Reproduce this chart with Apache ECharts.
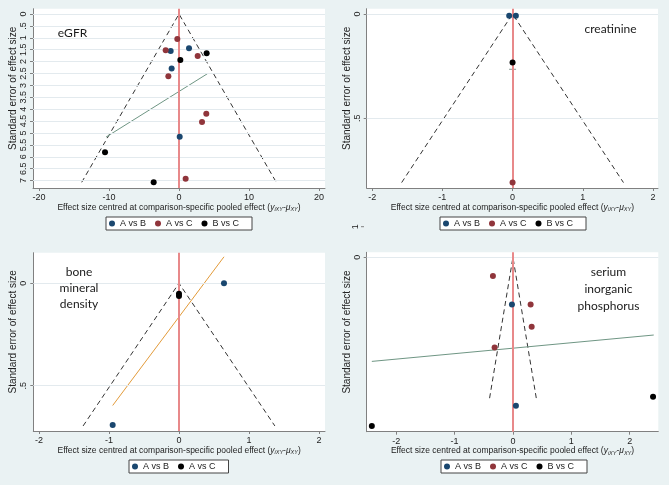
<!DOCTYPE html>
<html><head><meta charset="utf-8">
<script src="https://cdn.jsdelivr.net/npm/echarts@6/dist/echarts.min.js"></script>
<style>html,body{margin:0;padding:0;background:#eaf2f3;}#c{width:669px;height:485px;}</style>
</head><body><div id="c"></div>
<script>
// ---------- data ----------
const groupNames = ['A vs B', 'A vs C', 'B vs C'];

// eGFR
const egfrAB = [[1.43,1.44],[-1.19,1.55],[-1.05,2.29],[0.10,5.16]];
const egfrAC = [[-0.24,1.05],[-1.90,1.52],[2.67,1.76],[-1.52,2.61],[3.90,4.19],[3.29,4.54],[0.95,6.92]];
const egfrBC = [[3.95,1.65],[0.19,1.93],[-10.57,5.81],[-3.62,7.07]];
const egfrFunnel = [[-13.9,7.07],[0,0],[13.9,7.07]];
const egfrReg = [[-10.43,5.17],[4.05,2.51]];
const egfrXTicks = [-20,-10,0,10,20];
const egfrYTicks = [0,0.5,1,1.5,2,2.5,3,3.5,4,4.5,5,5.5,6,6.5,7];

// creatinine
const creaAB = [[-0.048,0.008],[0.047,0.008]];
const creaAC = [[0,0.808]];
const creaBC = [[0,0.233]];
const creaFunnel = [[-1.58,0.808],[0,0],[1.58,0.808]];
const creaReg = [[-0.05,0.265],[0.05,0.265]];
const creaXTicks = [-2,-1,0,1,2];
const creaYTicks = [0,0.5];

// bone mineral density
const bmdAB = [[0.643,0.0],[-0.947,0.692]];
const bmdAC = [[0,0.052],[0,0.062]];
const bmdFunnel = [[-1.37,0.697],[0,0],[1.37,0.697]];
const bmdReg = [[-0.947,0.597],[0.643,-0.129]];
const bmdXTicks = [-2,-1,0,1,2];
const bmdYTicks = [0,0.5];

// serum inorganic phosphorus
const phosAB = [[-0.017,0.068],[0.051,0.214]];
const phosAC = [[-0.343,0.027],[0.303,0.068],[0.321,0.100],[-0.314,0.130]];
const phosBC = [[2.40,0.201],[-2.417,0.243]];
const phosFunnel = [[-0.40,0.203],[0,0],[0.40,0.203]];
const phosReg = [[-2.417,0.150],[2.412,0.112]];
const phosXTicks = [-2,-1,0,1,2];
const phosYTicks = [0];

// ---------- styling ----------
const BLUE = '#1a476f', RED = '#90353b', BLACK = '#000000';
const GREEN = '#6f9684', ORANGE = '#e39b3a', VLINE = '#e8898a';
const FONT = 'Liberation Sans';
const AXC = '#808080', TXT = '#222';

const panels = [
  {grid:{left:33, top:8.7, width:292, height:179.3}, x:[-20.86,20.86], y:[-0.223,7.31],
   xt:egfrXTicks, yt:egfrYTicks, funnel:egfrFunnel, reg:egfrReg, regColor:GREEN,
   groups:[[egfrAB,BLUE,0],[egfrAC,RED,1],[egfrBC,BLACK,2]]},
  {grid:{left:366.7, top:8.7, width:291.3, height:179.3}, x:[-2.078,2.072], y:[-0.0254,0.834],
   xt:creaXTicks, yt:creaYTicks, funnel:creaFunnel, reg:creaReg, regColor:'#8a9a94',
   groups:[[creaAB,BLUE,0],[creaAC,RED,1],[creaBC,BLACK,2]]},
  {grid:{left:33.3, top:252.7, width:291.7, height:178.3}, x:[-2.081,2.086], y:[-0.149,0.7215],
   xt:bmdXTicks, yt:bmdYTicks, funnel:bmdFunnel, reg:bmdReg, regColor:ORANGE,
   groups:[[bmdAB,BLUE,0],[bmdAC,BLACK,1]]},
  {grid:{left:366.7, top:252.3, width:291.6, height:179.4}, x:[-2.505,2.49], y:[-0.0072,0.2513],
   xt:phosXTicks, yt:phosYTicks, funnel:phosFunnel, reg:phosReg, regColor:GREEN,
   groups:[[phosAB,BLUE,0],[phosAC,RED,1],[phosBC,BLACK,2]]}
];

const fmt = v => String(v).replace(/^0\./,'.').replace(/^-0\./,'-.');

const grids = [], xAxes = [], yAxes = [], series = [];
panels.forEach((p, i) => {
  grids.push(Object.assign({show:true, backgroundColor:'#ffffff', borderWidth:0, containLabel:false}, p.grid));
  xAxes.push({
    type:'value', gridIndex:i, min:p.x[0], max:p.x[1],
    axisLine:{show:true, onZero:false, lineStyle:{color:AXC, width:1}},
    axisTick:{show:true, customValues:p.xt, length:3, lineStyle:{color:AXC}},
    axisLabel:{customValues:p.xt, formatter:fmt, fontSize:9, color:TXT, fontFamily:FONT, margin:5},
    splitLine:{show:false},
    name:'Effect size centred at comparison-specific pooled effect ({it|y}{sub|iXY}-{it|μ}{sub|XY})',
    nameLocation:'middle', nameGap:13,
    nameTextStyle:{fontSize:8.5, color:TXT, fontFamily:FONT,
      rich:{it:{fontStyle:'italic', fontSize:8.5, color:TXT, fontFamily:FONT},
            sub:{fontStyle:'italic', fontSize:5.5, color:TXT, fontFamily:FONT, padding:[4,0,0,0]}}}
  });
  yAxes.push({
    type:'value', gridIndex:i, min:p.y[0], max:p.y[1], inverse:true,
    axisLine:{show:true, onZero:false, lineStyle:{color:AXC, width:1}},
    axisTick:{show:true, customValues:p.yt, length:3, lineStyle:{color:AXC}},
    axisLabel:{customValues:p.yt, formatter:fmt, rotate:90, fontSize:9, color:TXT, fontFamily:FONT, margin:5},
    splitLine:{show:false},
    name:'Standard error of effect size', nameLocation:'middle', nameGap:7,
    nameTextStyle:{fontSize:10, color:TXT, fontFamily:FONT, padding:[0,0,0,20]}
  });
  const mlData = p.yt.map(v => ({yAxis:v, lineStyle:{color:'#e3eaee', width:1, type:'solid'}}));
  mlData.push({xAxis:0, lineStyle:{color:VLINE, width:2, type:'solid'}});
  series.push({
    type:'line', xAxisIndex:i, yAxisIndex:i, data:p.funnel, symbol:'none', silent:true, z:3,
    lineStyle:{color:'#333', width:1, type:[5,3.5]},
    markLine:{silent:true, symbol:['none','none'], label:{show:false}, animation:false, data:mlData}
  });
  series.push({
    type:'line', xAxisIndex:i, yAxisIndex:i, data:p.reg, symbol:'none', silent:true, z:3,
    lineStyle:{color:p.regColor, width:1}
  });
  p.groups.forEach(g => {
    series.push({
      type:'scatter', name:groupNames[g[2]], xAxisIndex:i, yAxisIndex:i, data:g[0],
      symbol:'circle', symbolSize:6, itemStyle:{color:g[1], opacity:1}, z:6
    });
  });
});

const legendBase = {
  orient:'horizontal', icon:'circle', itemWidth:6, itemHeight:6, itemGap:9,
  padding:[2,13,2,3], backgroundColor:'#ffffff', borderColor:'#444', borderWidth:1, borderRadius:0,
  textStyle:{fontSize:9, color:TXT, fontFamily:FONT}, selectedMode:false
};
const leg3 = [{name:'A vs B', itemStyle:{color:BLUE}},{name:'A vs C', itemStyle:{color:RED}},{name:'B vs C', itemStyle:{color:BLACK}}];
const leg2 = [{name:'A vs B', itemStyle:{color:BLUE}},{name:'A vs C', itemStyle:{color:BLACK}}];
const legends = [
  Object.assign({}, legendBase, {left:106, top:217, data:leg3}),
  Object.assign({}, legendBase, {left:440, top:217, data:leg3}),
  Object.assign({}, legendBase, {left:129, top:460, data:leg2}),
  Object.assign({}, legendBase, {left:441, top:460, data:leg3})
];

const annStyle = {fill:'#1a1a1a', font:'12px Lato', textAlign:'center', textVerticalAlign:'middle'};
const graphic = [
  {type:'text', x:72.5, y:33, style:Object.assign({text:'eGFR'}, annStyle), z:10},
  {type:'text', x:610.5, y:29, style:Object.assign({text:'creatinine'}, annStyle), z:10},
  {type:'text', x:79, y:288.5, style:Object.assign({text:'bone\nmineral\ndensity', lineHeight:16}, annStyle), z:10},
  {type:'text', x:608.5, y:289, style:Object.assign({text:'serium\ninorganic\nphosphorus', lineHeight:17}, annStyle), z:10},
  // stray "1" tick label of the creatinine panel's y axis, drawn below its plot
  {type:'text', x:355.5, y:226.7, rotation:Math.PI/2, style:{text:'1', fill:TXT, font:'9px "Liberation Sans"', textAlign:'center', textVerticalAlign:'middle'}},
  {type:'line', shape:{x1:361, y1:226.7, x2:364, y2:226.7}, style:{stroke:AXC, lineWidth:1}}
];

const chart = echarts.init(document.getElementById('c'), null, {renderer:'canvas'});
chart.setOption({
  animation:false, backgroundColor:'#eaf2f3',
  grid:grids, xAxis:xAxes, yAxis:yAxes, series:series, legend:legends, graphic:graphic
});
</script></body></html>
